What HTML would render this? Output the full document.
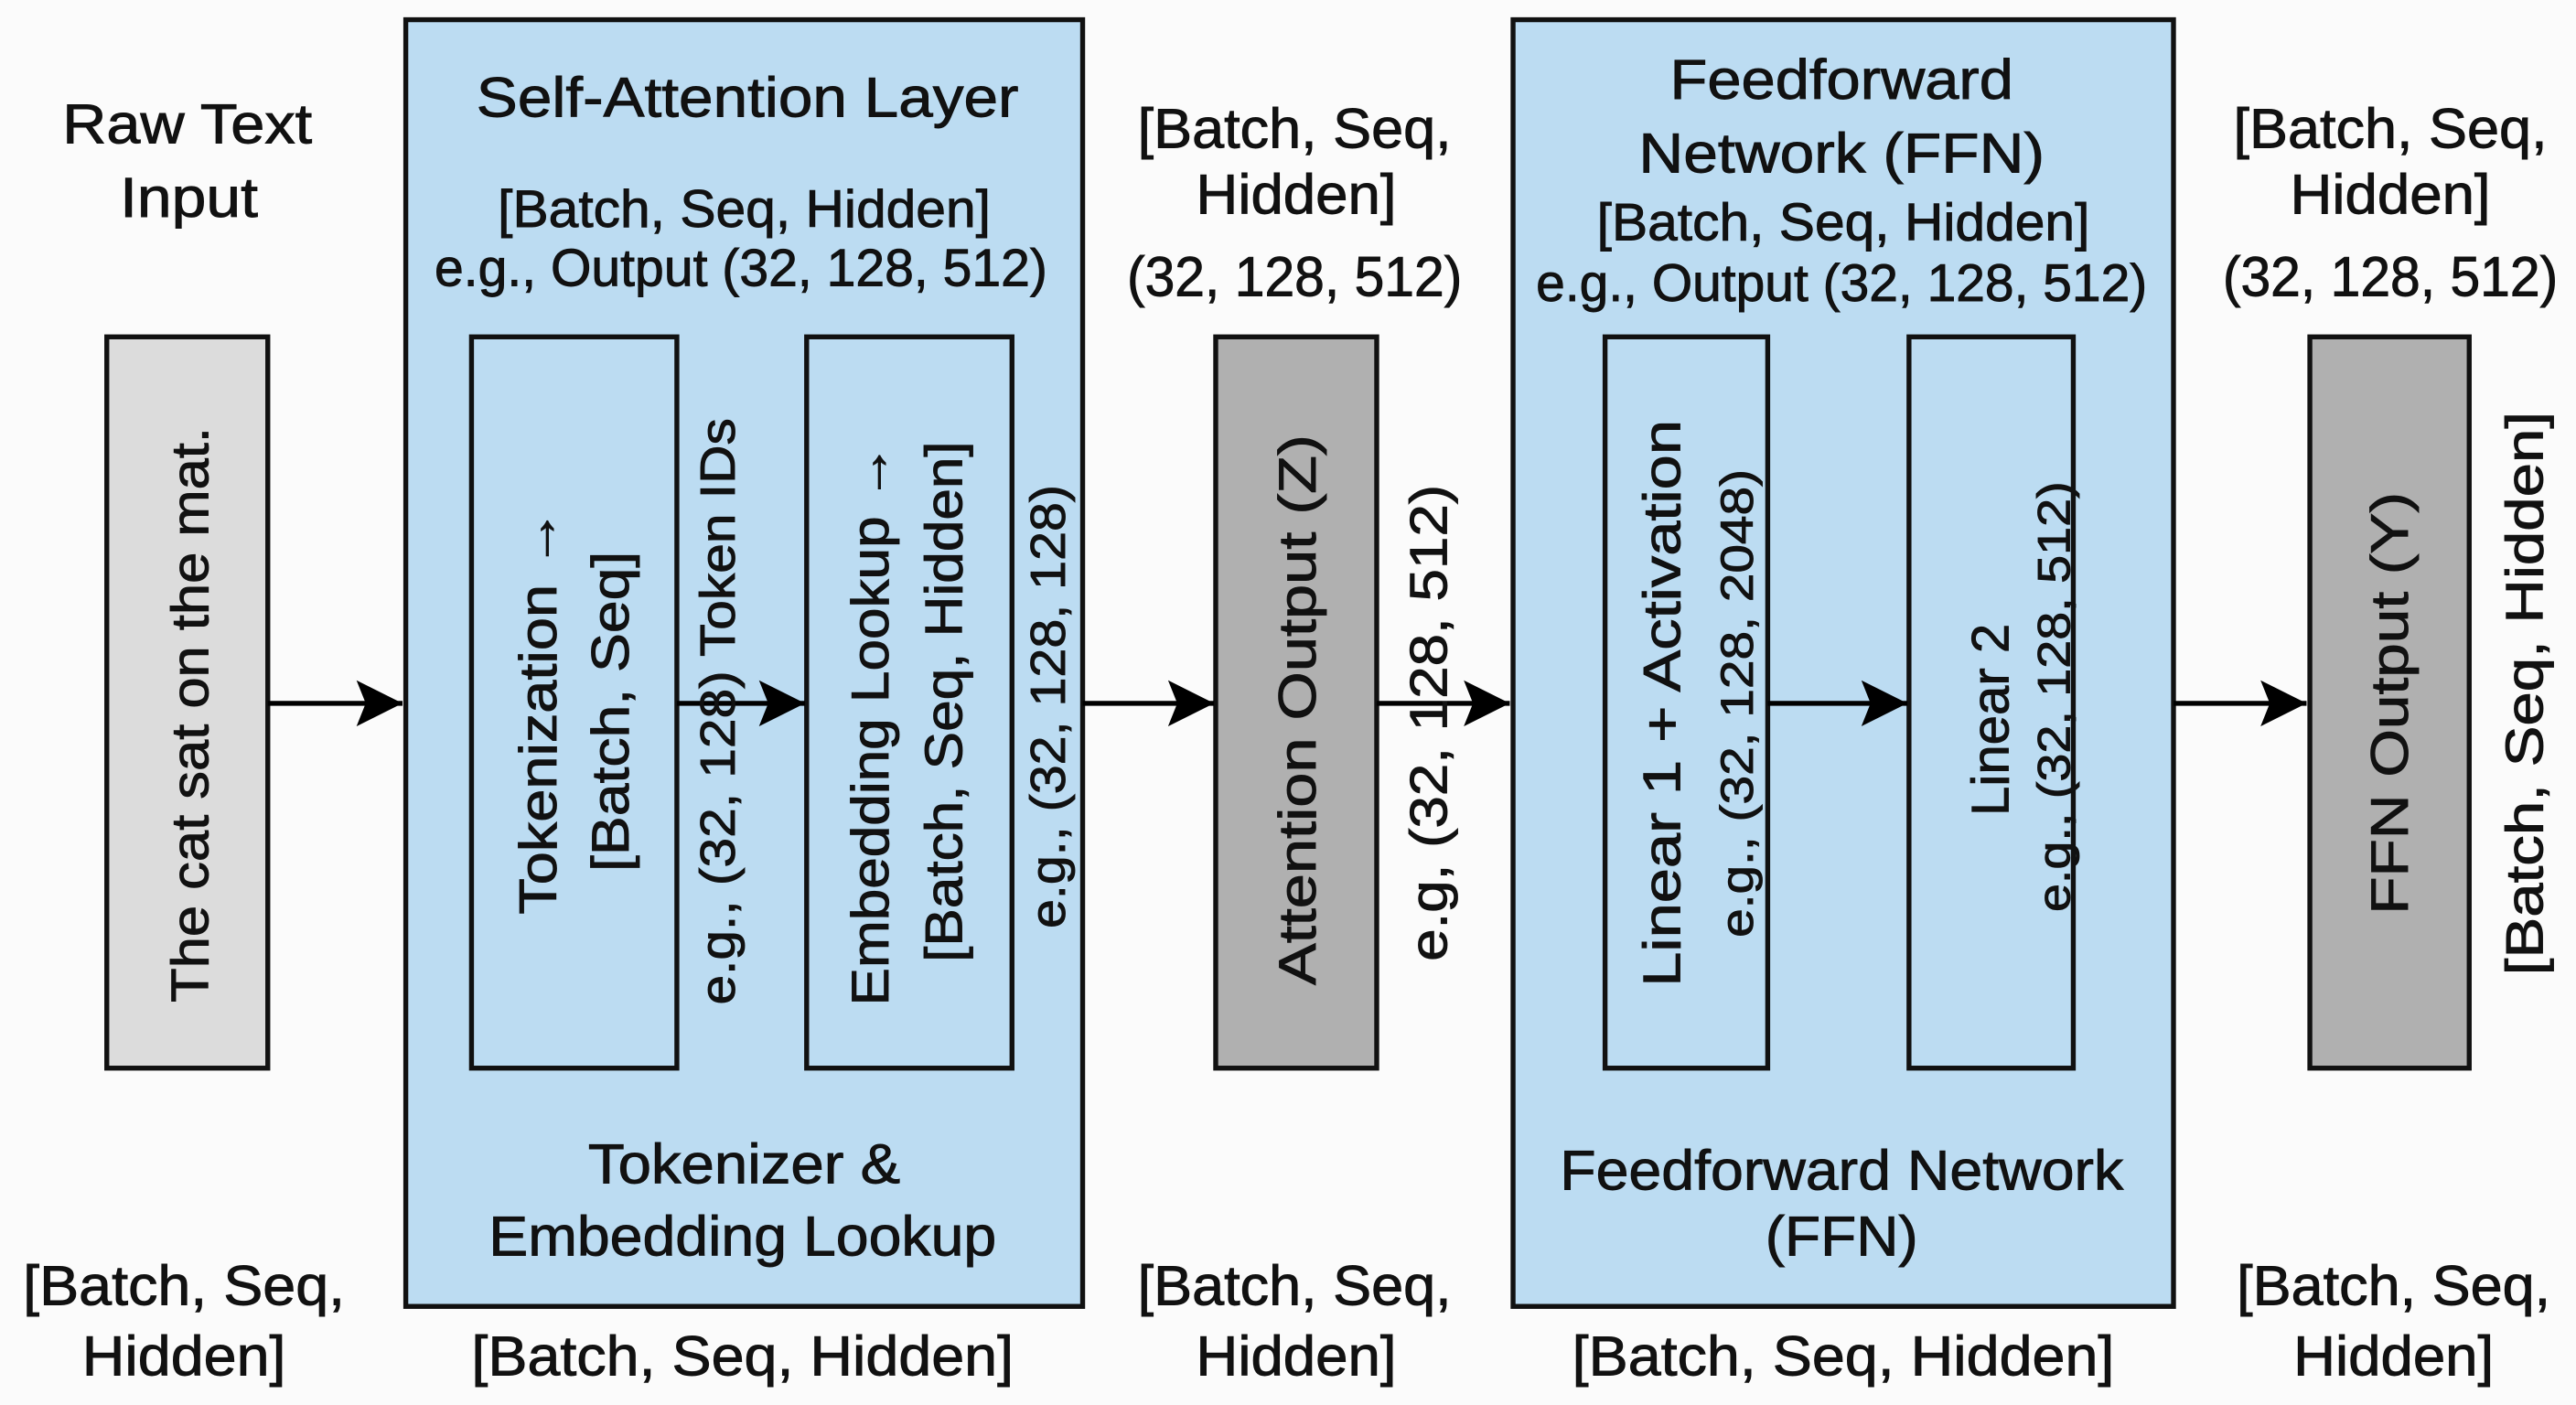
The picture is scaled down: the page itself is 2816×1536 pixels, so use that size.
<!DOCTYPE html>
<html><head><meta charset="utf-8"><style>
html,body{margin:0;padding:0;background:#fbfbfb;}
svg{display:block;}
text{font-family:"Liberation Sans",Arial,sans-serif;fill:#111;stroke:#111;stroke-width:0.5px;}
</style></head><body>
<svg width="2816" height="1536" viewBox="0 0 1568 855" preserveAspectRatio="none" xmlns="http://www.w3.org/2000/svg">
<defs>
<marker id="b" viewBox="0 0 10 10" markerWidth="28" markerHeight="28" refX="10" refY="5" orient="auto" markerUnits="userSpaceOnUse"><path d="M0,0 L10,5 L0,10 L2,5 z" fill="#000"/></marker></defs>
<rect width="1568" height="855" fill="#fbfbfb"/>
<rect x="247" y="12" width="412" height="783" fill="#bcdcf2" stroke="#111" stroke-width="3"/>
<rect x="921" y="12" width="402" height="783" fill="#bcdcf2" stroke="#111" stroke-width="3"/>
<rect x="65" y="205" width="98" height="445" fill="#dcdcdc" stroke="#111" stroke-width="3"/>
<rect x="287" y="205" width="125" height="445" fill="#bcdcf2" stroke="#111" stroke-width="3"/>
<rect x="491" y="205" width="125" height="445" fill="#bcdcf2" stroke="#111" stroke-width="3"/>
<rect x="740" y="205" width="98" height="445" fill="#b0b0b0" stroke="#111" stroke-width="3"/>
<rect x="977" y="205" width="99" height="445" fill="#bcdcf2" stroke="#111" stroke-width="3"/>
<rect x="1162" y="205" width="100" height="445" fill="#bcdcf2" stroke="#111" stroke-width="3"/>
<rect x="1406" y="205" width="97" height="445" fill="#b0b0b0" stroke="#111" stroke-width="3"/>
<g stroke="#000" stroke-width="3" marker-end="url(#b)">
<line x1="163" y1="428" x2="245" y2="428"/>
<line x1="412" y1="428" x2="490" y2="428"/>
<line x1="659" y1="428" x2="739" y2="428"/>
<line x1="838" y1="428" x2="919" y2="428"/>
<line x1="1076" y1="428" x2="1161" y2="428"/>
<line x1="1323" y1="428" x2="1404" y2="428"/>
</g>
<g text-anchor="middle" font-size="34">
<text x="114" y="87" textLength="152" lengthAdjust="spacingAndGlyphs">Raw Text</text>
<text x="115" y="132" textLength="84" lengthAdjust="spacingAndGlyphs">Input</text>
<text x="455" y="71" textLength="330" lengthAdjust="spacingAndGlyphs">Self-Attention Layer</text>
<text x="453" y="138" font-size="32" textLength="300" lengthAdjust="spacingAndGlyphs">[Batch, Seq, Hidden]</text>
<text x="451" y="174" font-size="32" textLength="373" lengthAdjust="spacingAndGlyphs">e.g., Output (32, 128, 512)</text>
<text x="453" y="720" textLength="190" lengthAdjust="spacingAndGlyphs">Tokenizer &amp;</text>
<text x="452" y="764" textLength="309" lengthAdjust="spacingAndGlyphs">Embedding Lookup</text>
<text x="112" y="794" textLength="196" lengthAdjust="spacingAndGlyphs">[Batch, Seq,</text>
<text x="112" y="837" textLength="124" lengthAdjust="spacingAndGlyphs">Hidden]</text>
<text x="452" y="837" textLength="330" lengthAdjust="spacingAndGlyphs">[Batch, Seq, Hidden]</text>
<text x="788" y="90" textLength="191" lengthAdjust="spacingAndGlyphs">[Batch, Seq,</text>
<text x="789" y="130" textLength="122" lengthAdjust="spacingAndGlyphs">Hidden]</text>
<text x="788" y="180" textLength="204" lengthAdjust="spacingAndGlyphs">(32, 128, 512)</text>
<text x="788" y="794" textLength="191" lengthAdjust="spacingAndGlyphs">[Batch, Seq,</text>
<text x="789" y="837" textLength="122" lengthAdjust="spacingAndGlyphs">Hidden]</text>
<text x="1121" y="60" textLength="209" lengthAdjust="spacingAndGlyphs">Feedforward</text>
<text x="1121" y="105" textLength="247" lengthAdjust="spacingAndGlyphs">Network (FFN)</text>
<text x="1122" y="146" font-size="32" textLength="300" lengthAdjust="spacingAndGlyphs">[Batch, Seq, Hidden]</text>
<text x="1121" y="183" font-size="32" textLength="372" lengthAdjust="spacingAndGlyphs">e.g., Output (32, 128, 512)</text>
<text x="1121" y="724" textLength="343" lengthAdjust="spacingAndGlyphs">Feedforward Network</text>
<text x="1121" y="764" textLength="93" lengthAdjust="spacingAndGlyphs">(FFN)</text>
<text x="1122" y="837" textLength="330" lengthAdjust="spacingAndGlyphs">[Batch, Seq, Hidden]</text>
<text x="1455" y="90" textLength="191" lengthAdjust="spacingAndGlyphs">[Batch, Seq,</text>
<text x="1455" y="130" textLength="122" lengthAdjust="spacingAndGlyphs">Hidden]</text>
<text x="1455" y="180" textLength="204" lengthAdjust="spacingAndGlyphs">(32, 128, 512)</text>
<text x="1457" y="794" textLength="191" lengthAdjust="spacingAndGlyphs">[Batch, Seq,</text>
<text x="1457" y="837" textLength="122" lengthAdjust="spacingAndGlyphs">Hidden]</text>
</g>
<g text-anchor="middle" dominant-baseline="central" font-size="32">
<text transform="translate(116,435) rotate(-90)" textLength="350" lengthAdjust="spacingAndGlyphs">The cat sat on the mat.</text>
<text transform="translate(328,433) rotate(-90)" textLength="247" lengthAdjust="spacingAndGlyphs">Tokenization →</text>
<text transform="translate(372,433) rotate(-90)" textLength="195" lengthAdjust="spacingAndGlyphs">[Batch, Seq]</text>
<text transform="translate(437,433) rotate(-90)" font-size="30" textLength="357" lengthAdjust="spacingAndGlyphs">e.g., (32, 128) Token IDs</text>
<text transform="translate(530,441) rotate(-90)" textLength="342" lengthAdjust="spacingAndGlyphs">Embedding Lookup →</text>
<text transform="translate(575,427) rotate(-90)" textLength="317" lengthAdjust="spacingAndGlyphs">[Batch, Seq, Hidden]</text>
<text transform="translate(638,430) rotate(-90)" font-size="30" textLength="270" lengthAdjust="spacingAndGlyphs">e.g., (32, 128, 128)</text>
<text transform="translate(790,432) rotate(-90)" textLength="335" lengthAdjust="spacingAndGlyphs">Attention Output (Z)</text>
<text transform="translate(870,440) rotate(-90)" textLength="290" lengthAdjust="spacingAndGlyphs">e.g, (32, 128, 512)</text>
<text transform="translate(1012,428) rotate(-90)" textLength="345" lengthAdjust="spacingAndGlyphs">Linear 1 + Activation</text>
<text transform="translate(1057,428) rotate(-90)" font-size="28" textLength="285" lengthAdjust="spacingAndGlyphs">e.g., (32, 128, 2048)</text>
<text transform="translate(1212,438) rotate(-90)" textLength="117" lengthAdjust="spacingAndGlyphs">Linear 2</text>
<text transform="translate(1250,424) rotate(-90)" font-size="28" textLength="262" lengthAdjust="spacingAndGlyphs">e.g., (32, 128, 512)</text>
<text transform="translate(1455,428) rotate(-90)" textLength="257" lengthAdjust="spacingAndGlyphs">FFN Output (Y)</text>
<text transform="translate(1537,422) rotate(-90)" textLength="343" lengthAdjust="spacingAndGlyphs">[Batch, Seq, Hidden]</text>
</g>
</svg>
</body></html>
